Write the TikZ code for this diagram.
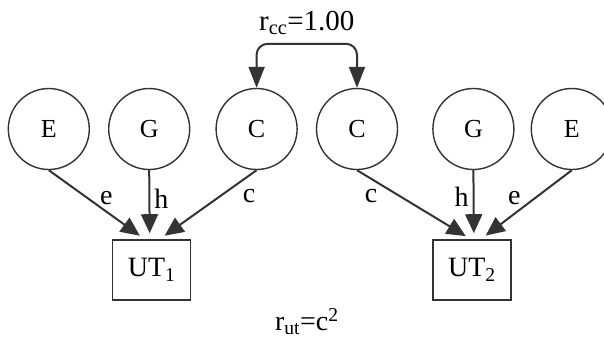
\documentclass[tikz,border=0pt]{standalone}
\usepackage{fontspec}
\setmainfont{Liberation Serif}
\usepackage{xcolor}
\definecolor{lineg}{HTML}{333333}
\usetikzlibrary{arrows.meta,positioning,calc}
\tikzset{
  lat/.style={circle, draw=lineg, line width=1.4pt, minimum size=81pt,
              inner sep=0pt, font=\fontsize{26}{28}\selectfont},
  obs/.style={rectangle, draw=lineg, line width=1.4pt, minimum width=78pt,
              minimum height=60pt, inner sep=0pt, font=\fontsize{28}{30}\selectfont},
  ar/.style={-{Triangle[length=19pt,width=17pt]}, draw=lineg, line width=2pt,
             shorten >=6pt},
  arb/.style={{Triangle[length=21pt,width=16pt]}-{Triangle[length=21pt,width=16pt]},
              draw=lineg, line width=2pt, rounded corners=11pt},
  lbl/.style={inner sep=1pt, font=\fontsize{28}{30}\selectfont},
}

\begin{document}
\begin{tikzpicture}
  \useasboundingbox (0,0) rectangle (604pt,-338pt);
  \node[lat] (e1) at (48.8pt,-129pt) {E};
  \node[lat, right=18pt of e1] (g1) {G};
  \node[lat, right=25pt of g1] (c1) {C};
  \node[lat, right=18pt of c1] (c2) {C};
  \node[lat, right=34pt of c2] (g2) {G};
  \node[lat, right=16pt of g2] (e2) {E};
  \node[obs, below=69pt of g1, xshift=2.5pt] (ut1) {UT\textsubscript{1}};
  \node[obs, below=69pt of g2, xshift=-1.5pt] (ut2) {UT\textsubscript{2}};
  \draw[ar] (e1.south) -- node[lbl, pos=0.41, right=10pt] {e} ([xshift=-7pt]ut1.north);
  \draw[ar] (g1.south) -- node[lbl, pos=0.41, right=3pt] {h} ([xshift=-2pt]ut1.north);
  \draw[ar] (c1.south) -- node[lbl, pos=0.37, right=20pt] {c} ([xshift=8pt]ut1.north);
  \draw[ar] (c2.south) -- node[lbl, pos=0.38, left=21pt] {c} ([xshift=-1pt]ut2.north);
  \draw[ar] (g2.south) -- node[lbl, pos=0.38, left=3pt] {h} ([xshift=2pt]ut2.north);
  \draw[ar] (e2.south) -- node[lbl, pos=0.4, left=13pt] {e} ([xshift=9pt]ut2.north);
  \draw[arb] (c1.north) -- ++(0,44pt) -| node[lbl, pos=0.25, above=7pt, font=\fontsize{29}{30}\selectfont] (rcc) {r\textsubscript{cc}=1.00} (c2.north);
  \node[lbl, anchor=base] (rut) at ($(ut1.south)!0.5!(ut2.south)+(-5pt,-30pt)$) {r\textsubscript{ut}=c\textsuperscript{2}};
\end{tikzpicture}
\end{document}
